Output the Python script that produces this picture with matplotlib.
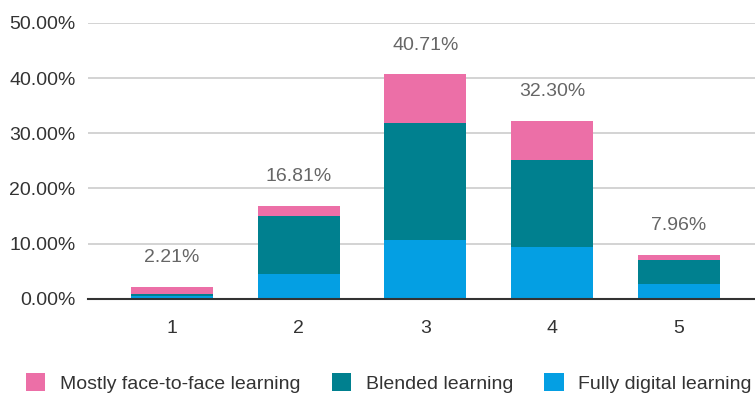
import matplotlib.pyplot as plt
import numpy as np

plt.rcParams["font.family"] = ["Liberation Sans", "DejaVu Sans"]

# Share of respondents (%) per rating, split by preferred learning format
ratings = ["1", "2", "3", "4", "5"]
fully_digital = [0.44, 4.42, 10.62, 9.29, 2.65]
blended = [0.44, 10.62, 21.24, 15.93, 4.42]
face_to_face = [1.33, 1.77, 8.85, 7.08, 0.89]

series_names = ["Mostly face-to-face learning", "Blended learning", "Fully digital learning"]
PINK = "#EC6FA7"
TEAL = "#00808F"
BLUE = "#049FE3"

fig = plt.figure(figsize=(7.55, 3.95), dpi=100)
ax = fig.add_axes([0.1166, 0.2438, 0.8834, 0.698])

x = np.arange(1, len(ratings) + 1)
width = 0.647
b_digital = ax.bar(x, fully_digital, width, color=BLUE, zorder=3)
b_blended = ax.bar(x, blended, width, bottom=fully_digital, color=TEAL, zorder=3)
lower = np.array(fully_digital) + np.array(blended)
b_face = ax.bar(x, face_to_face, width, bottom=lower, color=PINK, zorder=3)

totals = lower + np.array(face_to_face)
for xi, t in zip(x, totals):
    ax.annotate(f"{t:.2f}%", (xi, t), xytext=(0, 21), textcoords="offset points",
                ha="center", va="center", fontsize=14, color="#666666")

ax.set_xlim(0.34, 5.6)
ax.set_ylim(0, 50)
ax.set_yticks(np.arange(0, 51, 10))
ax.set_yticklabels([f"{v:.2f}%" for v in np.arange(0, 51, 10)])
ax.set_xticks(x)
ax.set_xticklabels(ratings)
ax.tick_params(axis="both", length=0, labelsize=14, colors="#333333")
ax.tick_params(axis="y", pad=9)
ax.tick_params(axis="x", pad=15)

ax.grid(axis="y", color="#cccccc", linewidth=1.2, zorder=0)
for side in ["top", "right", "left"]:
    ax.spines[side].set_visible(False)
ax.spines["bottom"].set_color("#333333")
ax.spines["bottom"].set_linewidth(1.5)
ax.spines["bottom"].set_zorder(4)

fig.legend([b_face, b_blended, b_digital], series_names,
           loc="center", bbox_to_anchor=(0.515, 0.03), ncol=3, frameon=False,
           fontsize=14, handlelength=1.0, handleheight=1.0,
           handletextpad=0.75, columnspacing=1.6, labelcolor="#333333")

fig.savefig("out.png", dpi=100, facecolor="white")
